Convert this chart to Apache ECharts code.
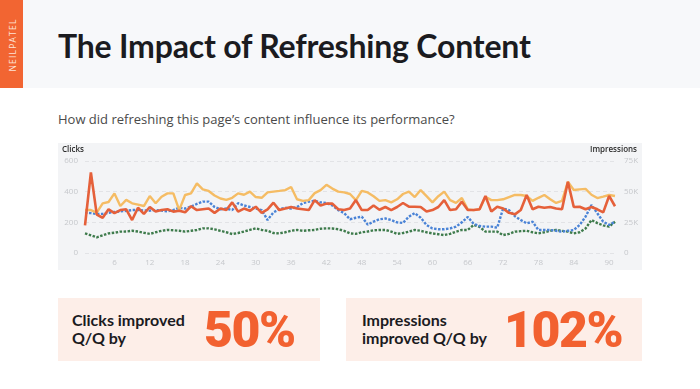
<!DOCTYPE html>
<html>
<head>
<meta charset="utf-8">
<script src="https://cdn.jsdelivr.net/npm/echarts@6/dist/echarts.min.js"></script>
<style>
  html, body { margin: 0; padding: 0; width: 700px; height: 389px; background: #ffffff; overflow: hidden; }
  #header { position: absolute; left: 0; top: 0; width: 700px; height: 88px; background: #f7f8fa; }
  #stripe { position: absolute; left: 0; top: 0; width: 23px; height: 88px; background: #f26532; }
  #brand { position: absolute; left: 12px; top: 45px; transform: translate(-50%, -50%) rotate(-90deg);
           color: #fde3d5; font: 500 8.5px "Open Sans", sans-serif; letter-spacing: 1.2px; white-space: nowrap; }
  #title { position: absolute; left: 58px; top: 26px; font: 700 32px Lato, sans-serif; color: #1b1b1f; white-space: nowrap; letter-spacing: -0.2px; }
  #subtitle { position: absolute; left: 58px; top: 110px; font: 400 13px "Open Sans", sans-serif; color: #4a4a4a; white-space: nowrap; }
  #chart { position: absolute; left: 58px; top: 143px; width: 584px; height: 127px; background: #f3f4f6; }
  .box { position: absolute; top: 298px; height: 63px; background: #fdeee8; }
  .lbl { position: absolute; font: 700 16px Lato, sans-serif; color: #1b1b1f; line-height: 18px; white-space: nowrap; }
  .big { position: absolute; font: 900 50px Roboto, sans-serif; color: #f26130; white-space: nowrap; letter-spacing: -1.5px; line-height: 50px; }
</style>
</head>
<body>
<div id="header"></div>
<div id="stripe"></div>
<div id="brand">NEILPATEL</div>
<div id="title">The Impact of Refreshing Content</div>
<div id="subtitle">How did refreshing this page’s content influence its performance?</div>
<div id="chart"></div>
<div class="box" style="left:58px; width:262px;">
  <div class="lbl" style="left:14px; top:13px;">Clicks improved<br>Q/Q by</div>
  <div class="big" style="left:146px; top:7px;">50%</div>
</div>
<div class="box" style="left:346px; width:296px;">
  <div class="lbl" style="left:16px; top:13px;">Impressions<br>improved Q/Q by</div>
  <div class="big" style="left:158px; top:7px;">102%</div>
</div>
<script>
// Day index (x categories)
const days = [];
for (let d = 1; d <= 91; d++) days.push(String(d));

// Clicks, current period (left axis)
const clicksCurrent = [180,525,250,230,285,260,280,285,215,295,
  255,300,270,280,285,270,275,265,305,280,
  285,290,262,290,280,330,270,290,275,302,
  262,285,328,280,290,300,290,285,280,345,
  310,322,322,285,280,290,345,280,280,310,
  282,300,280,300,326,302,302,300,270,280,
  300,345,280,285,335,280,280,285,372,270,
  302,290,262,252,280,378,285,302,295,300,
  290,285,465,300,302,285,300,285,265,372,305];

// Clicks, previous period (left axis)
const clicksPrevious = [263,260,255,255,262,268,271,275,280,280,
  278,276,280,276,272,280,295,290,302,320,
  335,335,300,285,290,280,325,310,300,290,
  280,215,265,285,295,290,300,325,335,340,
  330,326,310,280,260,220,230,237,185,205,
  220,225,215,200,196,237,260,230,183,160,
  155,155,160,172,200,235,190,176,172,172,
  165,290,280,240,215,193,204,150,150,150,
  145,139,145,150,183,237,313,259,204,183,204];

// Impressions, current period (right axis)
const impressionsCurrent = [35000,35000,32900,40500,41600,48600,38300,43300,40500,39400,
  38300,46400,40500,45900,48600,48600,35000,47300,48600,56800,
  51900,50600,46900,44400,43300,45000,48600,47500,50000,45600,
  45000,49400,50000,50600,51300,53800,43800,42500,43100,48800,
  51300,55600,52500,50000,49400,48100,43100,50600,49400,46300,
  42500,43100,41300,43800,48100,50000,45600,51300,46300,41300,
  46300,50000,43100,40800,44800,35600,35000,35600,45900,43100,
  43100,43800,45600,47300,47300,46500,42500,45000,47300,43800,
  40800,42500,58100,51400,51900,52300,47500,44800,46000,47300,46500];

// Impressions, previous period (right axis)
const impressionsPrevious = [16000,14400,12800,14400,16000,16500,17400,17500,18100,17500,
  16500,15600,16900,18100,18800,18500,18100,17400,18100,18800,
  20100,20100,19300,18100,16900,15500,16300,17500,18800,20100,
  18800,18100,16300,16000,16900,18100,18800,18100,18500,18800,
  19800,20100,20000,19400,18100,16000,15600,16900,17500,18500,
  18800,18800,17500,15600,16300,17400,18800,18100,16900,16000,
  15300,14600,15600,17400,18800,18800,22900,21300,17400,17400,
  17400,14600,15600,17400,17800,18100,16900,16000,16900,18100,
  18800,18100,17400,16000,16900,20000,26900,24400,22500,21500,25500];

const leftTicks = { min: 0, max: 600, interval: 200 };
const rightTicks = { min: 0, max: 75000, interval: 25000 };

const chart = echarts.init(document.getElementById('chart'), null, { renderer: 'canvas' });
const axisLabelStyle = { color: '#c6c8cc', fontSize: 8, fontFamily: 'Open Sans' };

chart.setOption({
  animation: false,
  backgroundColor: 'transparent',
  grid: { left: 27, right: 27, top: 18, bottom: 17 },
  graphic: [
    { type: 'text', left: 4, top: 3, style: { text: 'Clicks', fill: '#2b2b2b', font: '600 8px "Open Sans"' } },
    { type: 'text', right: 5, top: 3, style: { text: 'Impressions', fill: '#2b2b2b', font: '600 8px "Open Sans"' } }
  ],
  xAxis: {
    type: 'category',
    data: days,
    boundaryGap: false,
    axisLine: { show: false },
    axisTick: { show: false },
    axisLabel: Object.assign({}, axisLabelStyle, {
      margin: 6,
      interval: function (idx) { return (idx + 1) % 6 === 0; }
    }),
    splitLine: { show: false }
  },
  yAxis: [
    {
      type: 'value', min: leftTicks.min, max: leftTicks.max, interval: leftTicks.interval,
      axisLine: { show: false }, axisTick: { show: false },
      axisLabel: Object.assign({}, axisLabelStyle, { margin: 7 }),
      splitLine: { show: true, lineStyle: { color: '#e2e3e6', type: [4, 3], width: 1 } }
    },
    {
      type: 'value', min: rightTicks.min, max: rightTicks.max, interval: rightTicks.interval,
      axisLine: { show: false }, axisTick: { show: false },
      axisLabel: Object.assign({}, axisLabelStyle, {
        margin: 9,
        formatter: function (v) { return v === 0 ? '0' : (v / 1000) + 'K'; }
      }),
      splitLine: { show: false }
    }
  ],
  series: [
    { name: 'Impressions (previous)', type: 'line', yAxisIndex: 1, data: impressionsPrevious,
      symbol: 'none', lineStyle: { color: '#3e7b4c', width: 2.4, type: [2.5, 1.5] }, z: 1 },
    { name: 'Clicks (previous)', type: 'line', yAxisIndex: 0, data: clicksPrevious,
      symbol: 'none', lineStyle: { color: '#4a83d6', width: 2.4, type: [2.5, 1.5] }, z: 2 },
    { name: 'Impressions (current)', type: 'line', yAxisIndex: 1, data: impressionsCurrent,
      symbol: 'none', lineStyle: { color: '#f5bc64', width: 2.4 }, z: 3 },
    { name: 'Clicks (current)', type: 'line', yAxisIndex: 0, data: clicksCurrent,
      symbol: 'none', lineStyle: { color: '#e5603a', width: 2.6 }, z: 4 }
  ]
});
</script>
</body>
</html>
